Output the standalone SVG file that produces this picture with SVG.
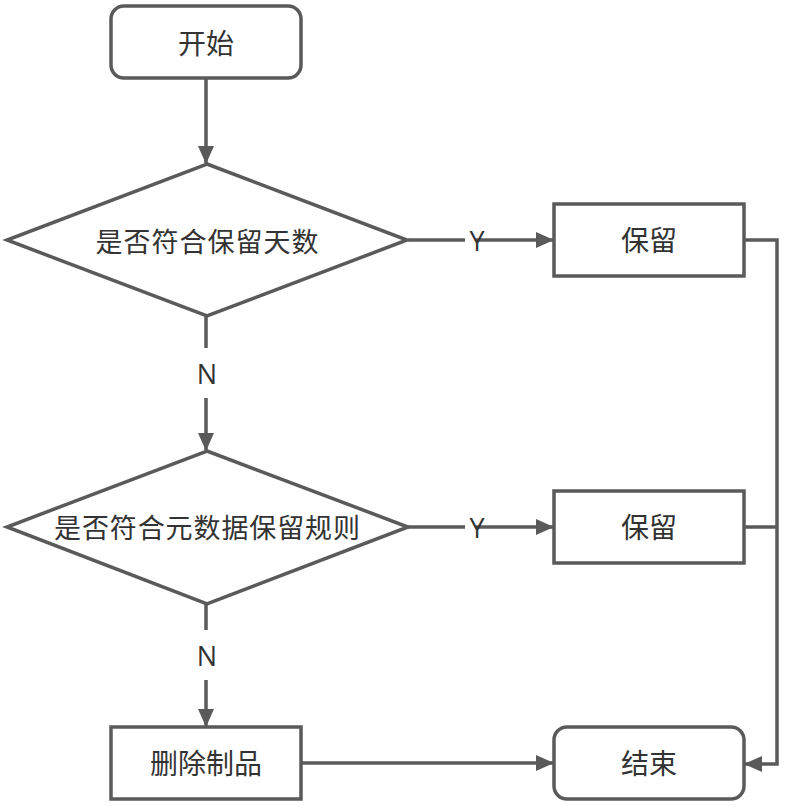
<svg xmlns="http://www.w3.org/2000/svg" width="793" height="806" viewBox="0 0 793 806">
<style>
.shape{fill:#ffffff;stroke:#5a5a5a;stroke-width:3.5}
.line{fill:none;stroke:#5a5a5a;stroke-width:3.5}
.t{font-family:"Open Sans","Noto Sans CJK SC",sans-serif;font-size:27px;fill:#333333;text-anchor:middle;dominant-baseline:central}
.t2{font-family:"Open Sans","Noto Sans CJK SC",sans-serif;font-size:28px;fill:#333333;text-anchor:middle;dominant-baseline:central}
.lbl{font-family:"Open Sans","Noto Sans CJK SC",sans-serif;font-size:27px;fill:#333333;text-anchor:middle;dominant-baseline:central}
</style>
<defs>
<marker id="arr" markerUnits="userSpaceOnUse" markerWidth="18" markerHeight="16" refX="17" refY="8" orient="auto">
<path d="M0,0 L18,8 L0,16 Z" fill="#5a5a5a"/>
</marker>
</defs>
<rect width="793" height="806" fill="#ffffff"/>
<g id="connectors">
<line class="line" x1="408" y1="240" x2="465" y2="240"/>
<line class="line" x1="476" y1="240" x2="553" y2="240" marker-end="url(#arr)"/>
<text class="lbl" x="477" y="240">Y</text>
<line class="line" x1="206" y1="78" x2="206" y2="163" marker-end="url(#arr)"/>
<line class="line" x1="206" y1="316" x2="206" y2="348"/>
<line class="line" x1="206" y1="398" x2="206" y2="450" marker-end="url(#arr)"/>
<text class="lbl" x="207" y="373">N</text>
<line class="line" x1="408" y1="527" x2="465" y2="527"/>
<line class="line" x1="476" y1="527" x2="553" y2="527" marker-end="url(#arr)"/>
<text class="lbl" x="477" y="527">Y</text>
<line class="line" x1="206" y1="604" x2="206" y2="630"/>
<line class="line" x1="206" y1="680" x2="206" y2="726" marker-end="url(#arr)"/>
<text class="lbl" x="207" y="655">N</text>
<line class="line" x1="301" y1="763" x2="553" y2="763" marker-end="url(#arr)"/>
<polyline class="line" points="744,240 777,240 777,764 745,764" marker-end="url(#arr)"/>
<line class="line" x1="744" y1="527" x2="777" y2="527"/>
</g>
<g id="start">
<rect class="shape" x="111" y="6" width="190" height="72" rx="13"/>
<text class="t2" x="206" y="43">开始</text>
</g>
<g id="decision1">
<polygon class="shape" points="207,164 407,240 207,316 7,240"/>
<text class="t" x="207" y="241" textLength="223" lengthAdjust="spacing">是否符合保留天数</text>
</g>
<g id="keep1">
<rect class="shape" x="554" y="204" width="190" height="72"/>
<text class="t2" x="649" y="240">保留</text>
</g>
<g id="decision2">
<polygon class="shape" points="207,451 408,527 207,604 7,527"/>
<text class="t" x="207" y="527" textLength="306" lengthAdjust="spacing">是否符合元数据保留规则</text>
</g>
<g id="keep2">
<rect class="shape" x="554" y="491" width="190" height="72"/>
<text class="t2" x="649" y="527">保留</text>
</g>
<g id="delete">
<rect class="shape" x="111" y="727" width="190" height="72"/>
<text class="t2" x="206" y="763">删除制品</text>
</g>
<g id="end">
<rect class="shape" x="554" y="727" width="190" height="72" rx="13"/>
<text class="t2" x="649" y="763">结束</text>
</g>
</svg>
